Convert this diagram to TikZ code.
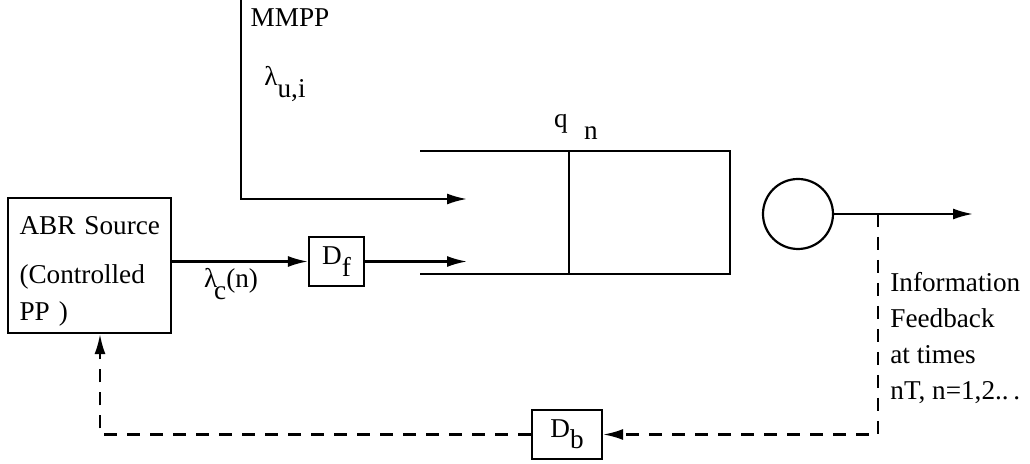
\documentclass[tikz,border=0pt]{standalone}
\usepackage{fontspec}
\setmainfont{Liberation Serif}
\usetikzlibrary{positioning,arrows.meta}
\newcommand{\lowidx}[1]{\raisebox{-0.9ex}{#1}}
\tikzset{lbl/.style={inner sep=0pt, align=left, font=\fontsize{13.6}{18}\selectfont}}

\begin{document}
\begin{tikzpicture}[
    x=0.5pt, y=-0.5pt,
    >={Latex[length=10pt,width=5.5pt]},
    line/.style={draw, line width=1.1pt},
    arr/.style={draw, ->, line width=1.1pt},
    fb/.style={draw, ->, dash pattern=on 6.5pt off 5pt, line width=1.1pt},
    box/.style={
        draw,
        line width=1.1pt,
        minimum width=81.5pt,
        minimum height=67.5pt,
        text width=78pt,
        align=left,
        inner sep=0pt,
        font=\fontsize{13.6}{18.5}\selectfont
    },
    smallbox/.style={
        draw,
        line width=1.1pt,
        minimum height=24.5pt,
        inner sep=0pt,
        font=\fontsize{13.6}{16}\selectfont
    }
]
\useasboundingbox (0,0) rectangle (1030,464);
% Source and delays
\node[box] (src) at (89.5,265.5) {\rule{0pt}{15.3pt}\hspace*{4pt}ABR Source\\[6pt]\hspace*{4pt}(Controlled\\\hspace*{4pt}PP )};
\node[smallbox, minimum width=27.5pt] (df) at (336.5,261.5) {D\lowidx{f}};
\node[smallbox, minimum width=35pt] (db) at (567,434.5) {D\lowidx{b}};
% Queue and server
\coordinate (qtl) at (420,151);
\coordinate (qtr) at (730,151);
\coordinate (qbr) at (730,274);
\coordinate (qbl) at (420,274);
\draw[line] (qtl) -- (qtr) -- (qbr) -- (qbl);
\draw[line] (569,151) -- (569,274);
\node[draw, circle, line width=1.1pt, minimum size=35pt, inner sep=0pt] (srv) at (798,214) {};
% Labels
\node[lbl] (mmpp) at (290,18) {MMPP};
\node[lbl] (lamu) at (285,84) {λ\lowidx{u,i}};
\node[lbl] (lamc) at (231,284) {λ\kern-1.5pt\lowidx{c}(n)};
\node[lbl] (qn) at (576,127) {q\hspace{0.6em}\lowidx{n}};
\node[lbl, anchor=north west] (info) at (890,272) {Information\\Feedback\\at times\\nT, n=1,2..\,.};
% Arrivals
\coordinate (mmtop) at (241,0);
\coordinate (qin1) at (467,199);
\coordinate (qin2) at (467,261.5);
\draw[arr] (mmtop) |- (qin1);
\draw[arr] (src.east |- df.west) -- (df.west);
\draw[arr] (df.east) -- (qin2);
% Departures and feedback
\coordinate (out) at (973,214);
\coordinate (tap) at (878,214);
\draw[arr] (srv.east) -- (out);
\draw[fb] (tap) |- (db.east);
\draw[fb] (db.west) -| ([xshift=5.25pt]src.south);
\end{tikzpicture}
\end{document}
